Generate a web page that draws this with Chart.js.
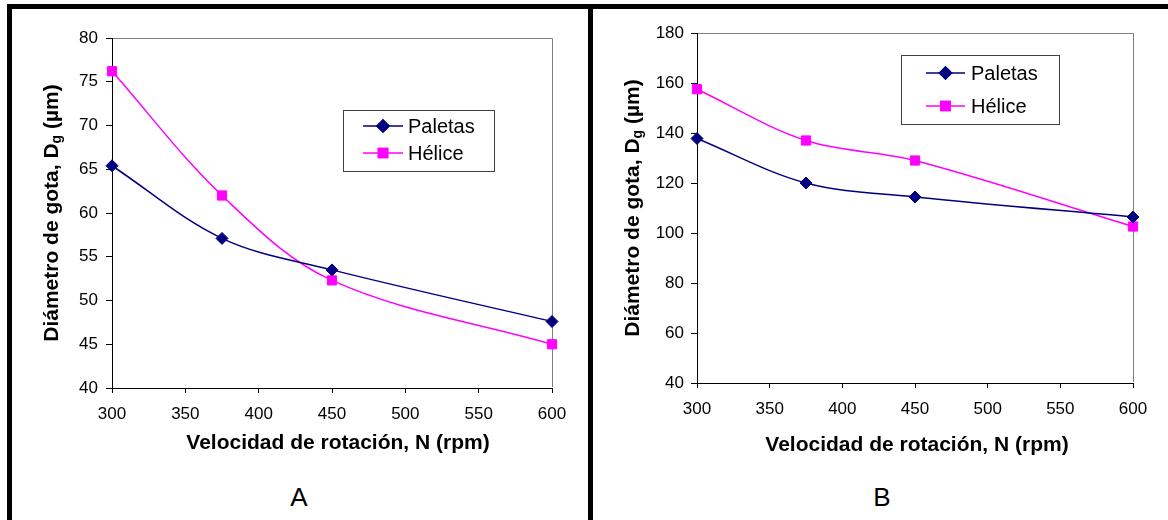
<!DOCTYPE html>
<html>
<head>
<meta charset="utf-8">
<script src="https://cdn.jsdelivr.net/npm/chart.js@4.4.1/dist/chart.umd.min.js"></script>
<style>
    body { margin: 0; width: 1168px; height: 520px; position: relative; background: #fff; overflow: hidden; font-family: "Liberation Sans", Arial, sans-serif; }
    .bar { position: absolute; background: #000; }
    canvas { position: absolute; }
    .panel-label { position: absolute; width: 60px; text-align: center; font-size: 26px; color: #000; line-height: 30px; }
</style>
</head>
<body>
<div class="bar" style="left:7px; top:4px; width:1161px; height:5px"></div>
<div class="bar" style="left:7px; top:4px; width:5px; height:516px"></div>
<div class="bar" style="left:588px; top:4px; width:5px; height:516px"></div>

<canvas id="chartA" width="576" height="460" style="left:12px; top:9px"></canvas>
<canvas id="chartB" width="575" height="460" style="left:593px; top:9px"></canvas>

<div class="panel-label" style="left:269px; top:482px">A</div>
<div class="panel-label" style="left:852px; top:482px">B</div>

<script>
// ---- Datos ----
const rpm = [300, 375, 450, 600];

// Panel A
const paletasA = [65.4, 57.1, 53.5, 47.6];
const heliceA  = [76.2, 62.0, 52.3, 45.0];

// Panel B
const paletasB = [137.8, 120.0, 114.4, 106.4];
const heliceB  = [157.5, 137.0, 129.0, 102.6];

// Etiquetas de los ejes
const xTicks  = [300, 350, 400, 450, 500, 550, 600];
const yTicksA = [40, 45, 50, 55, 60, 65, 70, 75, 80];
const yTicksB = [40, 60, 80, 100, 120, 140, 160, 180];

const seriesNames = ['Paletas', 'Hélice'];
const xTitle = 'Velocidad de rotación, N (rpm)';

const FONT = '"Liberation Sans", Arial, sans-serif';

function pares(valores) {
    return rpm.map((x, i) => ({ x: x, y: valores[i] }));
}

// Marco gris (arriba/derecha), títulos de ejes y leyenda interior
const decorPlugin = {
    id: 'decor',
    beforeDatasetsDraw(chart) {
        const { ctx, chartArea: a } = chart;
        ctx.save();
        ctx.strokeStyle = '#808080';
        ctx.lineWidth = 1;
        ctx.beginPath();
        ctx.moveTo(a.left + 1, Math.round(a.top) + 0.5);
        ctx.lineTo(Math.round(a.right) + 0.5, Math.round(a.top) + 0.5);
        ctx.lineTo(Math.round(a.right) + 0.5, a.bottom - 1);
        ctx.stroke();
        ctx.restore();
    },
    afterDraw(chart, args, opts) {
        const { ctx, chartArea: a } = chart;
        ctx.save();
        ctx.fillStyle = '#000';

        // Título eje X
        ctx.font = 'bold 21px ' + FONT;
        ctx.textAlign = 'center';
        ctx.textBaseline = 'middle';
        ctx.fillText(xTitle, (a.left + a.right) / 2 + opts.xTitleShift, opts.xTitleY);

        // Título eje Y con subíndice
        ctx.translate(opts.yTitleX, (a.top + a.bottom) / 2);
        ctx.rotate(-Math.PI / 2);
        const p1 = 'Diámetro de gota, D', sub = 'g', p3 = ' (µm)';
        ctx.font = 'bold 21px ' + FONT;
        const w1 = ctx.measureText(p1).width, w3 = ctx.measureText(p3).width;
        ctx.font = 'bold 14px ' + FONT;
        const ws = ctx.measureText(sub).width;
        let x = -(w1 + ws + w3) / 2;
        ctx.textAlign = 'left';
        ctx.font = 'bold 21px ' + FONT;
        ctx.fillText(p1, x, 0);
        x += w1;
        ctx.font = 'bold 14px ' + FONT;
        ctx.fillText(sub, x, 5);
        x += ws;
        ctx.font = 'bold 21px ' + FONT;
        ctx.fillText(p3, x, 0);
        ctx.setTransform(1, 0, 0, 1, 0, 0);

        // Leyenda
        const lg = opts.legend;
        const bx = a.left + lg.dx, by = a.top + lg.dy;
        ctx.fillStyle = '#fff';
        ctx.fillRect(bx, by, lg.w, lg.h);
        ctx.strokeStyle = '#404040';
        ctx.lineWidth = 1;
        ctx.strokeRect(Math.round(bx) + 0.5, Math.round(by) + 0.5, lg.w, lg.h);
        chart.data.datasets.forEach((ds, i) => {
            const yy = by + lg.rows[i];
            ctx.strokeStyle = ds.borderColor;
            ctx.lineWidth = ds.borderWidth;
            ctx.beginPath();
            ctx.moveTo(bx + lg.line[0], yy);
            ctx.lineTo(bx + lg.line[1], yy);
            ctx.stroke();
            Chart.helpers.drawPoint(ctx, {
                pointStyle: ds.pointStyle, radius: ds.pointRadius, borderWidth: 1, rotation: 0
            }, bx + (lg.line[0] + lg.line[1]) / 2, yy);
            ctx.fillStyle = ds.backgroundColor;
            ctx.strokeStyle = ds.borderColor;
            ctx.fill();
            ctx.stroke();
            ctx.fillStyle = '#000';
            ctx.font = '20px ' + FONT;
            ctx.textAlign = 'left';
            ctx.textBaseline = 'middle';
            ctx.fillText(ds.label, bx + lg.textX, yy + 1);
        });
        ctx.restore();
    }
};

function crearGrafica(id, paletas, helice, yTicks, cfg) {
    const ctx = document.getElementById(id).getContext('2d');
    return new Chart(ctx, {
        type: 'line',
        data: {
            datasets: [{
                label: seriesNames[0],
                data: pares(paletas),
                borderColor: '#000080',
                backgroundColor: '#000080',
                borderWidth: 1.5,
                pointStyle: 'rectRot',
                pointRadius: 6,
                pointBorderWidth: 1,
                tension: 0.35,
                clip: false
            }, {
                label: seriesNames[1],
                data: pares(helice),
                borderColor: '#FF00FF',
                backgroundColor: '#FF00FF',
                borderWidth: 1.5,
                pointStyle: 'rect',
                pointRadius: 6.5,
                pointBorderWidth: 1,
                tension: 0.35,
                clip: false
            }]
        },
        options: {
            responsive: false,
            animation: false,
            devicePixelRatio: 1,
            layout: { padding: cfg.padding },
            plugins: {
                legend: { display: false },
                tooltip: { enabled: false },
                decor: cfg.decor
            },
            scales: {
                x: {
                    type: 'linear',
                    min: xTicks[0],
                    max: xTicks[xTicks.length - 1],
                    afterBuildTicks: s => { s.ticks = xTicks.map(v => ({ value: v })); },
                    afterFit: s => { s.height = cfg.xHeight; },
                    grid: { drawOnChartArea: false, tickLength: 5, color: '#000' },
                    border: { color: '#000', width: 1 },
                    ticks: { color: '#000', font: { family: FONT, size: 17 }, padding: 11, maxRotation: 0 }
                },
                y: {
                    type: 'linear',
                    min: yTicks[0],
                    max: yTicks[yTicks.length - 1],
                    afterBuildTicks: s => { s.ticks = yTicks.map(v => ({ value: v })); },
                    afterFit: s => { s.width = 60; },
                    grid: { drawOnChartArea: false, tickLength: 6, color: '#000' },
                    border: { color: '#000', width: 1 },
                    ticks: { color: '#000', font: { family: FONT, size: 17 }, padding: cfg.yPad }
                }
            }
        },
        plugins: [decorPlugin]
    });
}

crearGrafica('chartA', paletasA, heliceA, yTicksA, {
    padding: { left: 40, right: 36, top: 29, bottom: 0 },
    xHeight: 81,
    yPad: 8,
    decor: {
        xTitleY: 434, xTitleShift: 6, yTitleX: 40,
        legend: { dx: 231, dy: 72, w: 151, h: 61, rows: [16, 43], line: [20, 60], textX: 65 }
    }
});

crearGrafica('chartB', paletasB, heliceB, yTicksB, {
    padding: { left: 44, right: 35, top: 24, bottom: 0 },
    xHeight: 86,
    yPad: 7,
    decor: {
        xTitleY: 436, xTitleShift: 2, yTitleX: 40,
        legend: { dx: 204, dy: 22, w: 158, h: 69, rows: [18, 51], line: [25, 64], textX: 70 }
    }
});
</script>
</body>
</html>
